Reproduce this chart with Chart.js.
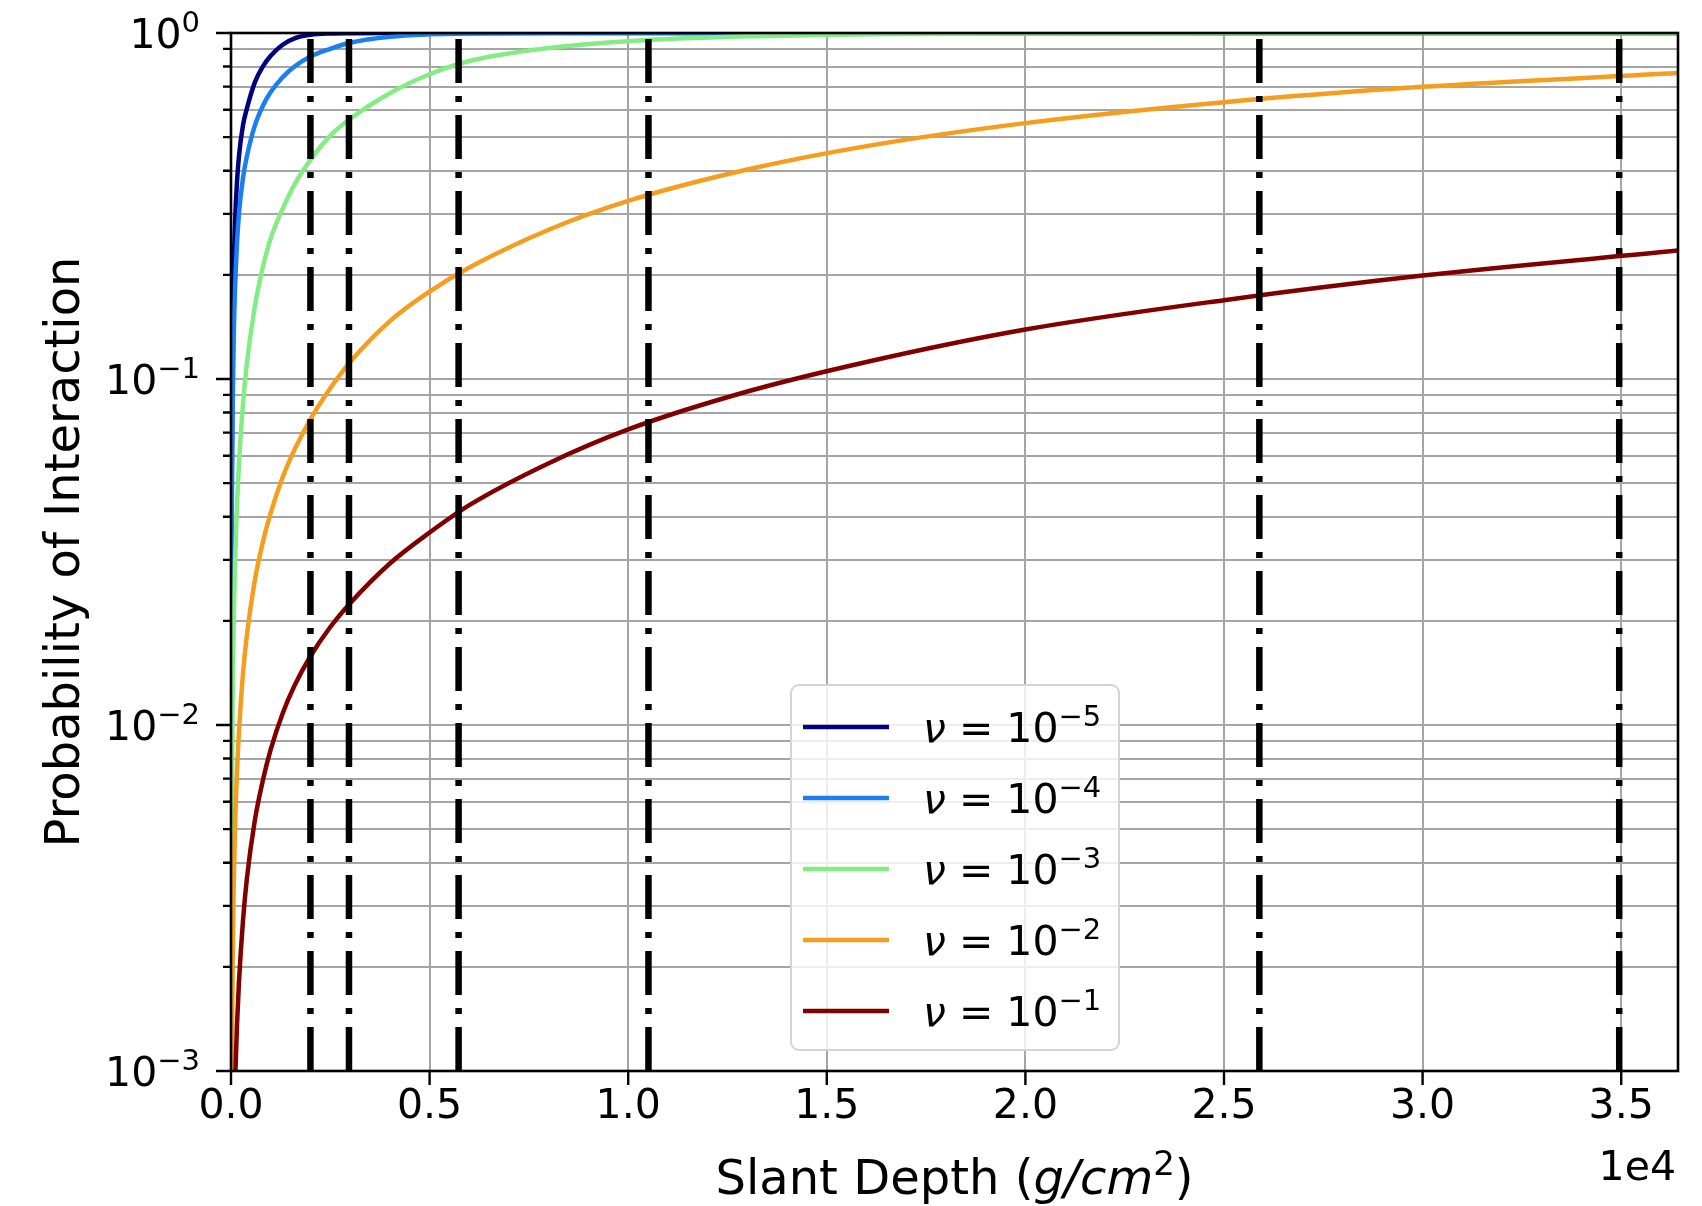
<!DOCTYPE html>
<html>
<head>
<meta charset="utf-8">
<script src="https://cdn.jsdelivr.net/npm/chart.js@4.4.1/dist/chart.umd.min.js"></script>
<style>
  html, body { margin: 0; padding: 0; background: #fff; }
  canvas { display: block; }
</style>
</head>
<body>
<canvas id="myChart" width="1702" height="1206"></canvas>
<script>
(() => {
  'use strict'

  // slant depth samples (g/cm^2), shared by all curves
  const depths = [0.5, 1, 2, 5, 10, 20, 40, 70, 100, 150, 200, 300, 400, 600, 800, 1000,
    1300, 1600, 2000, 2500, 3000, 4000, 5000, 6000, 8000, 10000, 13000, 16000, 20000,
    25000, 30000, 36430];

  // probability of interaction for each nu (null = off the bottom of the axis)
  const nu1e5 = [0.0013, 0.0026, 0.0052, 0.013, 0.026, 0.055, 0.125, 0.21, 0.28, 0.37, 0.44,
    0.54, 0.605, 0.72, 0.80, 0.86, 0.925, 0.965, 0.988, 0.997, 0.999, 1, 1, 1, 1, 1, 1, 1,
    1, 1, 1, 1];
  const nu1e4 = [0.001, 0.002, 0.004, 0.0105, 0.021, 0.041, 0.08, 0.135, 0.18, 0.245, 0.30,
    0.38, 0.44, 0.54, 0.615, 0.675, 0.745, 0.80, 0.855, 0.90, 0.937, 0.975, 0.991, 0.997,
    1, 1, 1, 1, 1, 1, 1, 1];
  const nu1e3 = [null, null, 0.0006, 0.0015, 0.0029, 0.0059, 0.0117, 0.0204, 0.029, 0.043,
    0.057, 0.084, 0.111, 0.162, 0.21, 0.255, 0.31, 0.365, 0.43, 0.505, 0.565, 0.67,
    0.76, 0.83, 0.905, 0.947, 0.978, 0.991, 0.997, 0.9994, 0.9999, 1];
  const nu1e2 = [null, null, null, null, null, 0.001, 0.002, 0.0035, 0.005, 0.0073, 0.0095,
    0.014, 0.0182, 0.0262, 0.0337, 0.041, 0.052, 0.0625, 0.0765, 0.094, 0.112, 0.147,
    0.179, 0.21, 0.27, 0.327, 0.403, 0.471, 0.549, 0.631, 0.699, 0.766];
  const nu1e1 = [null, null, null, null, null, null, null, null, 0.0009, 0.00135, 0.0018,
    0.0027, 0.0036, 0.0053, 0.0069, 0.0085, 0.0108, 0.013, 0.0158, 0.0192, 0.0225, 0.0293,
    0.036, 0.0432, 0.0571, 0.0715, 0.092, 0.112, 0.139, 0.169, 0.199, 0.235];

  const series = [nu1e5, nu1e4, nu1e3, nu1e2, nu1e1];
  const nuExponents = [-5, -4, -3, -2, -1];
  const seriesColors = ['#000080', '#1a7ff0', '#84ec84', '#f59d1e', '#800000'];

  // vertical reference depths (dash-dot lines)
  const markerDepths = [2000, 2970, 5730, 10510, 25890, 34950];

  // axes
  const xMax = 36430;
  const xTicks = [0, 5000, 10000, 15000, 20000, 25000, 30000, 35000];
  const yDecades = [-3, -2, -1, 0];

  const FAMILY = '"DejaVu Sans"';
  const font = (size, style) => (style ? style + ' ' : '') + size + 'px ' + FAMILY;

  const yTicks = [];
  yDecades.forEach(e => {
    const top = e === 0 ? 1 : 9;
    for (let m = 1; m <= top; m++) {
      yTicks.push({ value: Number((m * Math.pow(10, e)).toPrecision(3)), major: m === 1, exp: e });
    }
  });

  const datasets = series.map((vals, i) => ({
    label: 'nu' + nuExponents[i],
    data: depths.map((d, j) => ({ x: d, y: vals[j] })).filter(p => p.y !== null),
    borderColor: seriesColors[i],
    borderWidth: 4.5,
    cubicInterpolationMode: 'monotone',
    pointRadius: 0,
    fill: false,
    order: 5 - i
  }));

  markerDepths.forEach(d => {
    datasets.push({
      label: 'marker',
      data: [{ x: d, y: 1e-3 }, { x: d, y: 1 }],
      borderColor: '#000',
      borderWidth: 6.5,
      borderDash: [44, 13, 6, 13],
      borderCapStyle: 'butt',
      pointRadius: 0,
      tension: 0,
      fill: false,
      order: 0
    });
  });

  // draws text runs side by side, e.g. 10 followed by a raised exponent
  function drawRuns(ctx, runs, x, y, align) {
    const widths = runs.map(r => { ctx.font = r.font; return ctx.measureText(r.text).width; });
    const total = widths.reduce((a, b) => a + b, 0);
    let cx = align === 'right' ? x - total : align === 'center' ? x - total / 2 : x;
    ctx.textAlign = 'left';
    ctx.textBaseline = 'alphabetic';
    runs.forEach((r, i) => {
      ctx.font = r.font;
      ctx.fillText(r.text, cx, y - (r.rise || 0));
      cx += widths[i];
    });
  }

  const expText = e => (e < 0 ? '\u2212' + (-e) : String(e));

  const decorations = {
    id: 'decorations',
    afterDatasetsDraw(chart) {
      const { ctx, chartArea: a, scales: { x, y } } = chart;
      ctx.save();
      ctx.strokeStyle = '#000';
      ctx.lineWidth = 2.4;
      ctx.beginPath();
      y.ticks.forEach(t => {
        const py = y.getPixelForValue(t.value);
        const len = t.major ? 15 : 8;
        ctx.moveTo(a.left - len, py);
        ctx.lineTo(a.left, py);
      });
      xTicks.forEach(v => {
        const px = x.getPixelForValue(v);
        ctx.moveTo(px, a.bottom);
        ctx.lineTo(px, a.bottom + 14);
      });
      ctx.stroke();
      ctx.lineWidth = 2.6;
      ctx.strokeRect(a.left, a.top, a.right - a.left, a.bottom - a.top);
      ctx.restore();
    },
    afterDraw(chart) {
      const { ctx, chartArea: a, scales: { y } } = chart;
      ctx.save();
      ctx.fillStyle = '#000';

      // y tick labels: 10^n
      yTicks.filter(t => t.major).forEach(t => {
        const py = y.getPixelForValue(t.value);
        drawRuns(ctx, [
          { text: '10', font: font(41) },
          { text: expText(t.exp), font: font(29), rise: 16 }
        ], 200, py + 15, 'right');
      });

      // x offset text
      ctx.font = font(41);
      ctx.textAlign = 'right';
      ctx.textBaseline = 'alphabetic';
      ctx.fillText('1e4', a.right - 2, 1180);

      // axis titles
      drawRuns(ctx, [
        { text: 'Slant Depth (', font: font(48) },
        { text: 'g/cm', font: font(48, 'italic') },
        { text: '2', font: font(34), rise: 19 },
        { text: ')', font: font(48) }
      ], (a.left + a.right) / 2, 1194, 'center');

      ctx.save();
      ctx.translate(79, (a.top + a.bottom) / 2);
      ctx.rotate(-Math.PI / 2);
      ctx.font = font(48);
      ctx.textAlign = 'center';
      ctx.textBaseline = 'alphabetic';
      ctx.fillText('Probability of Interaction', 0, 0);
      ctx.restore();

      // legend box
      const bx = 791, by = 685, bw = 328, bh = 365, r = 8;
      ctx.beginPath();
      ctx.roundRect(bx, by, bw, bh, r);
      ctx.fillStyle = 'rgba(255,255,255,0.8)';
      ctx.fill();
      ctx.strokeStyle = '#d4d4d4';
      ctx.lineWidth = 2;
      ctx.stroke();

      nuExponents.forEach((e, i) => {
        const ry = 727 + i * 71;
        ctx.beginPath();
        ctx.moveTo(803, ry);
        ctx.lineTo(889, ry);
        ctx.strokeStyle = seriesColors[i];
        ctx.lineWidth = 4.5;
        ctx.stroke();
        ctx.fillStyle = '#000';
        drawRuns(ctx, [
          { text: '\u03bd', font: font(41, 'italic') },
          { text: ' = 10', font: font(41) },
          { text: expText(e), font: font(29), rise: 16 }
        ], 923, ry + 15, 'left');
      });
      ctx.restore();
    }
  };

  const gridColor = '#a5a5a5';

  new Chart(document.getElementById('myChart'), {
    type: 'line',
    data: { datasets },
    options: {
      responsive: false,
      devicePixelRatio: 1,
      animation: false,
      layout: { padding: { top: 33, right: 24, left: 0, bottom: 0 } },
      plugins: {
        legend: { display: false },
        tooltip: { enabled: false }
      },
      scales: {
        x: {
          type: 'linear',
          min: 0,
          max: xMax,
          afterBuildTicks: s => { s.ticks = xTicks.map(v => ({ value: v })); },
          afterFit: s => { s.height = 135; },
          border: { display: false },
          grid: { color: gridColor, lineWidth: 2, drawTicks: false },
          ticks: {
            autoSkip: false,
            maxRotation: 0,
            padding: 12,
            color: '#000',
            font: { family: 'DejaVu Sans', size: 41 },
            callback: v => (v / 1e4).toFixed(1)
          }
        },
        y: {
          type: 'logarithmic',
          min: 1e-3,
          max: 1,
          afterBuildTicks: s => { s.ticks = yTicks.map(t => ({ value: t.value, major: t.major })); },
          afterFit: s => { s.width = 231; },
          border: { display: false },
          grid: { color: gridColor, lineWidth: 2, drawTicks: false },
          ticks: { display: false, autoSkip: false }
        }
      }
    },
    plugins: [decorations]
  });
})()
</script>
</body>
</html>
